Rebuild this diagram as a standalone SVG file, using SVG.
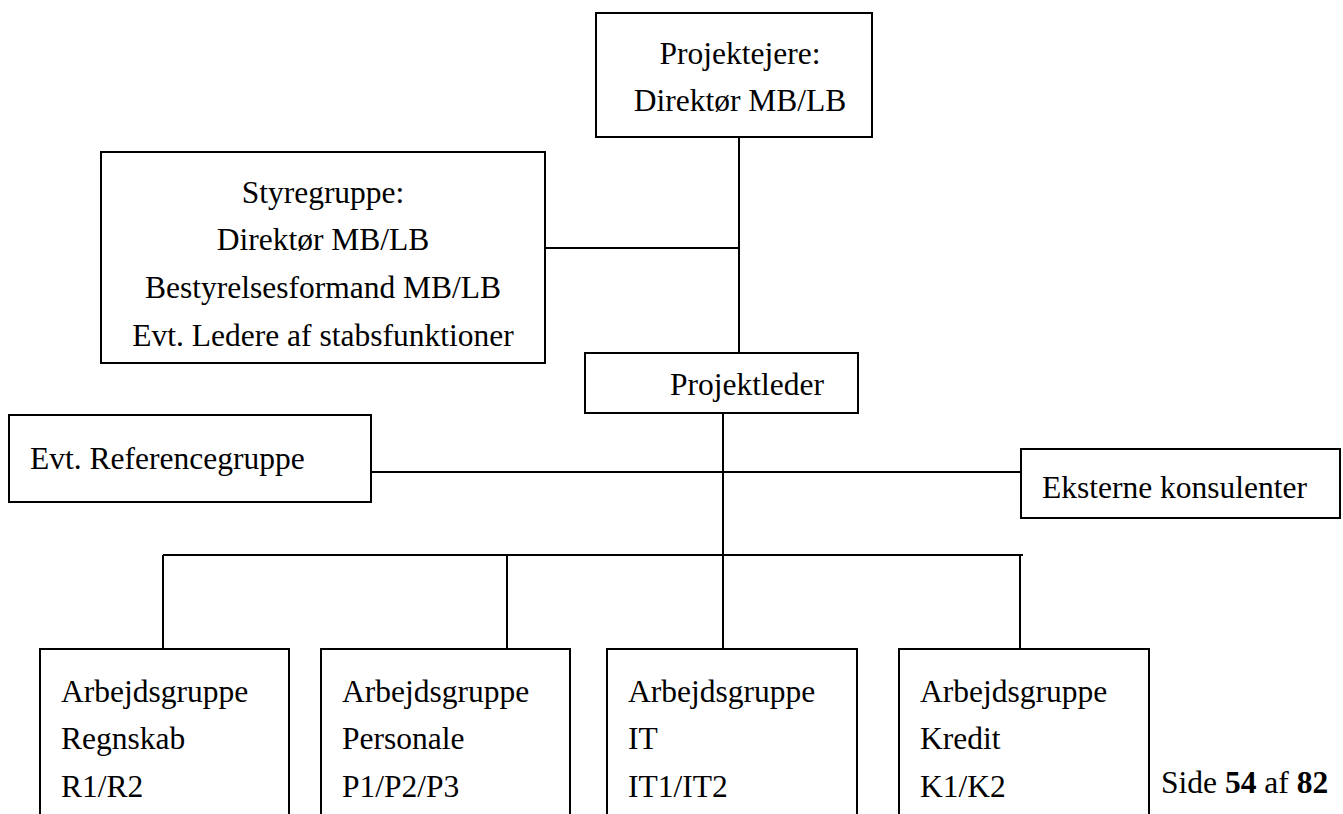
<svg xmlns="http://www.w3.org/2000/svg" width="1343" height="814" viewBox="0 0 1343 814">
<style>
.box{fill:#fff;stroke:#000;stroke-width:2}
.ln{stroke:#000;stroke-width:2;fill:none}
text{font-family:"Liberation Serif","Times New Roman",serif;font-size:31.5px;fill:#000}
.c{text-anchor:middle}
</style>
<rect width="1343" height="814" fill="#fff"/>
<g id="connectors">
<line class="ln" x1="739" y1="137" x2="739" y2="353"/>
<line class="ln" x1="545" y1="248" x2="739" y2="248"/>
<line class="ln" x1="723" y1="413" x2="723" y2="649"/>
<line class="ln" x1="371" y1="472" x2="1021" y2="472"/>
<line class="ln" x1="163" y1="555" x2="1023" y2="555"/>
<line class="ln" x1="163" y1="555" x2="163" y2="649"/>
<line class="ln" x1="507" y1="555" x2="507" y2="649"/>
<line class="ln" x1="1020" y1="555" x2="1020" y2="649"/>
</g>
<g id="projektejere">
<rect class="box" x="596" y="13" width="276" height="124"/>
<text class="c" x="740" y="64">Projektejere:</text>
<text class="c" x="740" y="111">Direktør MB/LB</text>
</g>
<g id="styregruppe">
<rect class="box" x="101" y="152" width="444" height="211"/>
<text class="c" x="323" y="203">Styregruppe:</text>
<text class="c" x="323" y="250">Direktør MB/LB</text>
<text class="c" x="323" y="298">Bestyrelsesformand MB/LB</text>
<text class="c" x="323" y="346">Evt. Ledere af stabsfunktioner</text>
</g>
<g id="projektleder">
<rect class="box" x="585" y="353" width="273" height="60"/>
<text x="670" y="395">Projektleder</text>
</g>
<g id="referencegruppe">
<rect class="box" x="9" y="415" width="362" height="87"/>
<text x="30" y="469">Evt. Referencegruppe</text>
</g>
<g id="eksterne">
<rect class="box" x="1021" y="449" width="319" height="69"/>
<text x="1042" y="498">Eksterne konsulenter</text>
</g>
<g id="regnskab">
<rect class="box" x="40" y="649" width="249" height="190"/>
<text x="61" y="702">Arbejdsgruppe</text>
<text x="61" y="749">Regnskab</text>
<text x="61" y="797">R1/R2</text>
</g>
<g id="personale">
<rect class="box" x="321" y="649" width="249" height="190"/>
<text x="342" y="702">Arbejdsgruppe</text>
<text x="342" y="749">Personale</text>
<text x="342" y="797">P1/P2/P3</text>
</g>
<g id="it">
<rect class="box" x="607" y="649" width="250" height="190"/>
<text x="628" y="702">Arbejdsgruppe</text>
<text x="628" y="749">IT</text>
<text x="628" y="797">IT1/IT2</text>
</g>
<g id="kredit">
<rect class="box" x="899" y="649" width="250" height="190"/>
<text x="920" y="702">Arbejdsgruppe</text>
<text x="920" y="749">Kredit</text>
<text x="920" y="797">K1/K2</text>
</g>
<text x="1161" y="793">Side <tspan font-weight="bold">54</tspan> af <tspan font-weight="bold">82</tspan></text>
</svg>
